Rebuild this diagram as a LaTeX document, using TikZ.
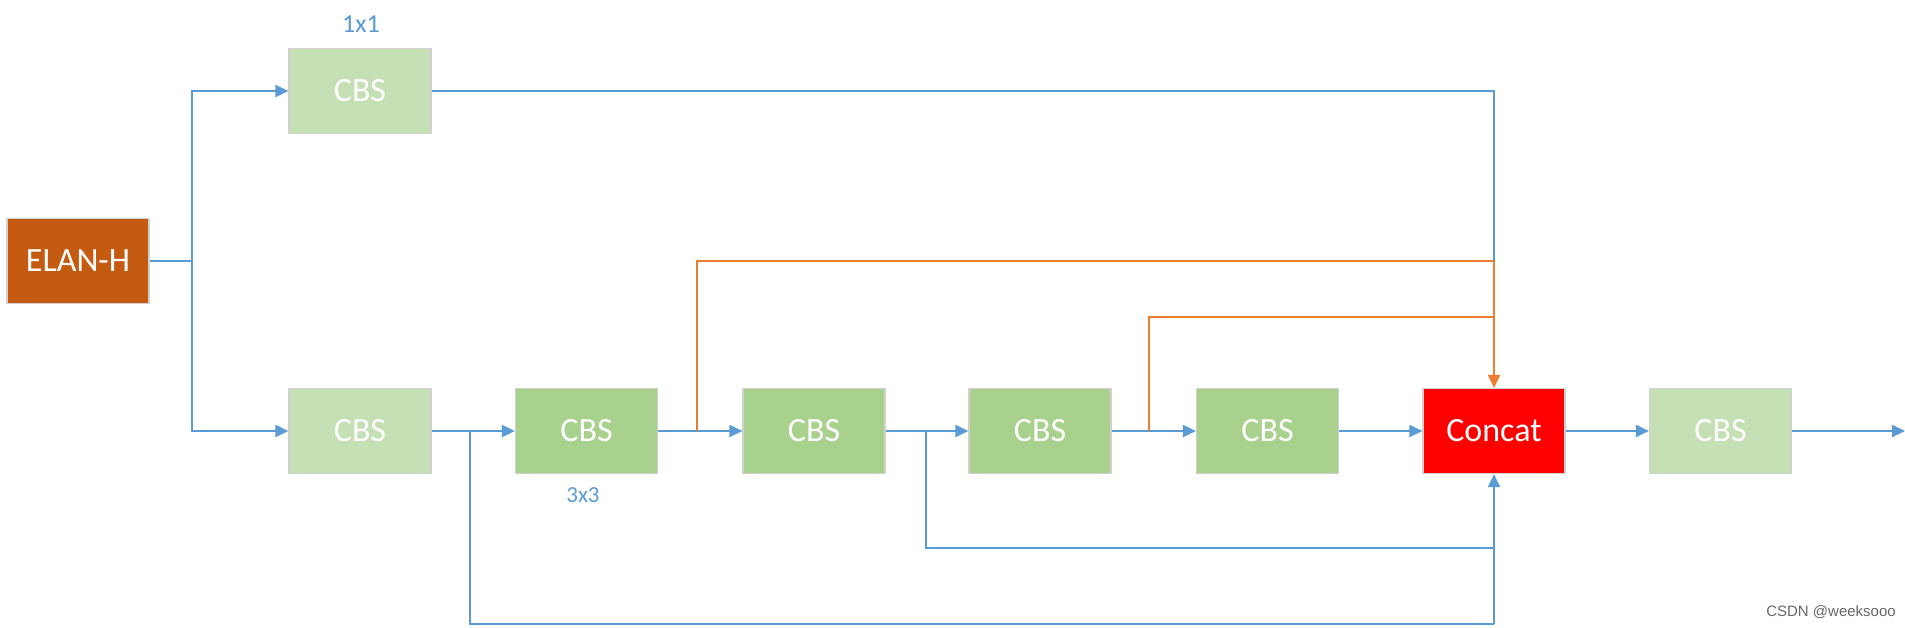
\documentclass[tikz,border=0pt]{standalone}
\usepackage{fontspec}
\setmainfont{Carlito}
\newfontfamily\wmfont{Liberation Sans}
\usetikzlibrary{arrows.meta}
\definecolor{lgreen}{HTML}{C5E0B4}
\definecolor{mgreen}{HTML}{A9D18E}
\definecolor{brick}{HTML}{C55A11}
\definecolor{lblue}{HTML}{5B9BD5}
\definecolor{lorange}{HTML}{ED7D31}
\tikzset{>/.tip={Triangle[length=6.5pt,width=6pt]},
  blk/.style={draw=black!18, line width=0.6pt, minimum width=71pt, minimum height=42.5pt,
    inner sep=0pt, text=white, font=\fontsize{17}{20}\selectfont},
  bl/.style={draw=lblue, line width=1pt},
  og/.style={draw=lorange, line width=1pt}}

\begin{document}
\begin{tikzpicture}[x=0.5pt,y=-0.5pt]
\useasboundingbox (0,0) rectangle (1905,627);
\node[blk,fill=brick] (elan) at (78,261) {ELAN-H};
\node[blk,fill=lgreen] (t) at (360,91) {CBS};
\node[text=lblue,font=\fontsize{13}{15}\selectfont] (k1) at (361,24) {1x1};
\node[blk,fill=lgreen] (c1) at (360,431) {CBS};
\node[blk,fill=mgreen] (c2) at (586.5,431) {CBS};
\node[text=lblue,font=\fontsize{11.5}{13}\selectfont] (k3) at (583,495) {3x3};
\node[blk,fill=mgreen] (c3) at (814,431) {CBS};
\node[blk,fill=mgreen] (c4) at (1040,431) {CBS};
\node[blk,fill=mgreen] (c5) at (1267.5,431) {CBS};
\node[blk,fill=red] (concat) at (1494,431) {Concat};
\node[blk,fill=lgreen] (out) at (1720.5,431) {CBS};
\node[text=black!60,font=\wmfont\fontsize{7.5}{9}\selectfont] (wm) at (1831,612) {CSDN @weeksooo};
\coordinate (j0) at (192,261);
\coordinate (b1) at (470,431);
\coordinate (o1) at (697,431);
\coordinate (b2) at (926,431);
\coordinate (o2) at (1149,431);
\coordinate (m1) at (1494,261);
\coordinate (m2) at (1494,317);
\coordinate (m3) at (1494,548);
\coordinate (m4) at (1494,624);
\coordinate (endp) at (1905,431);
\draw[bl] (elan) -- (j0);
\draw[bl,->] (j0) |- (t);
\draw[bl,->] (j0) |- (c1);
\foreach \a/\b in {c1/c2,c2/c3,c3/c4,c4/c5,c5/concat,concat/out,out/endp}
  \draw[bl,->] (\a) -- (\b);
\draw[bl] (t) -| (m1);
\draw[og] (o1) |- (m1);
\draw[og] (o2) |- (m2);
\draw[og,->] (m1) -- (concat);
\draw[bl] (b2) |- (m3);
\draw[bl] (b1) |- (m4);
\draw[bl,->] (m4) -- (concat);
\end{tikzpicture}
\end{document}
